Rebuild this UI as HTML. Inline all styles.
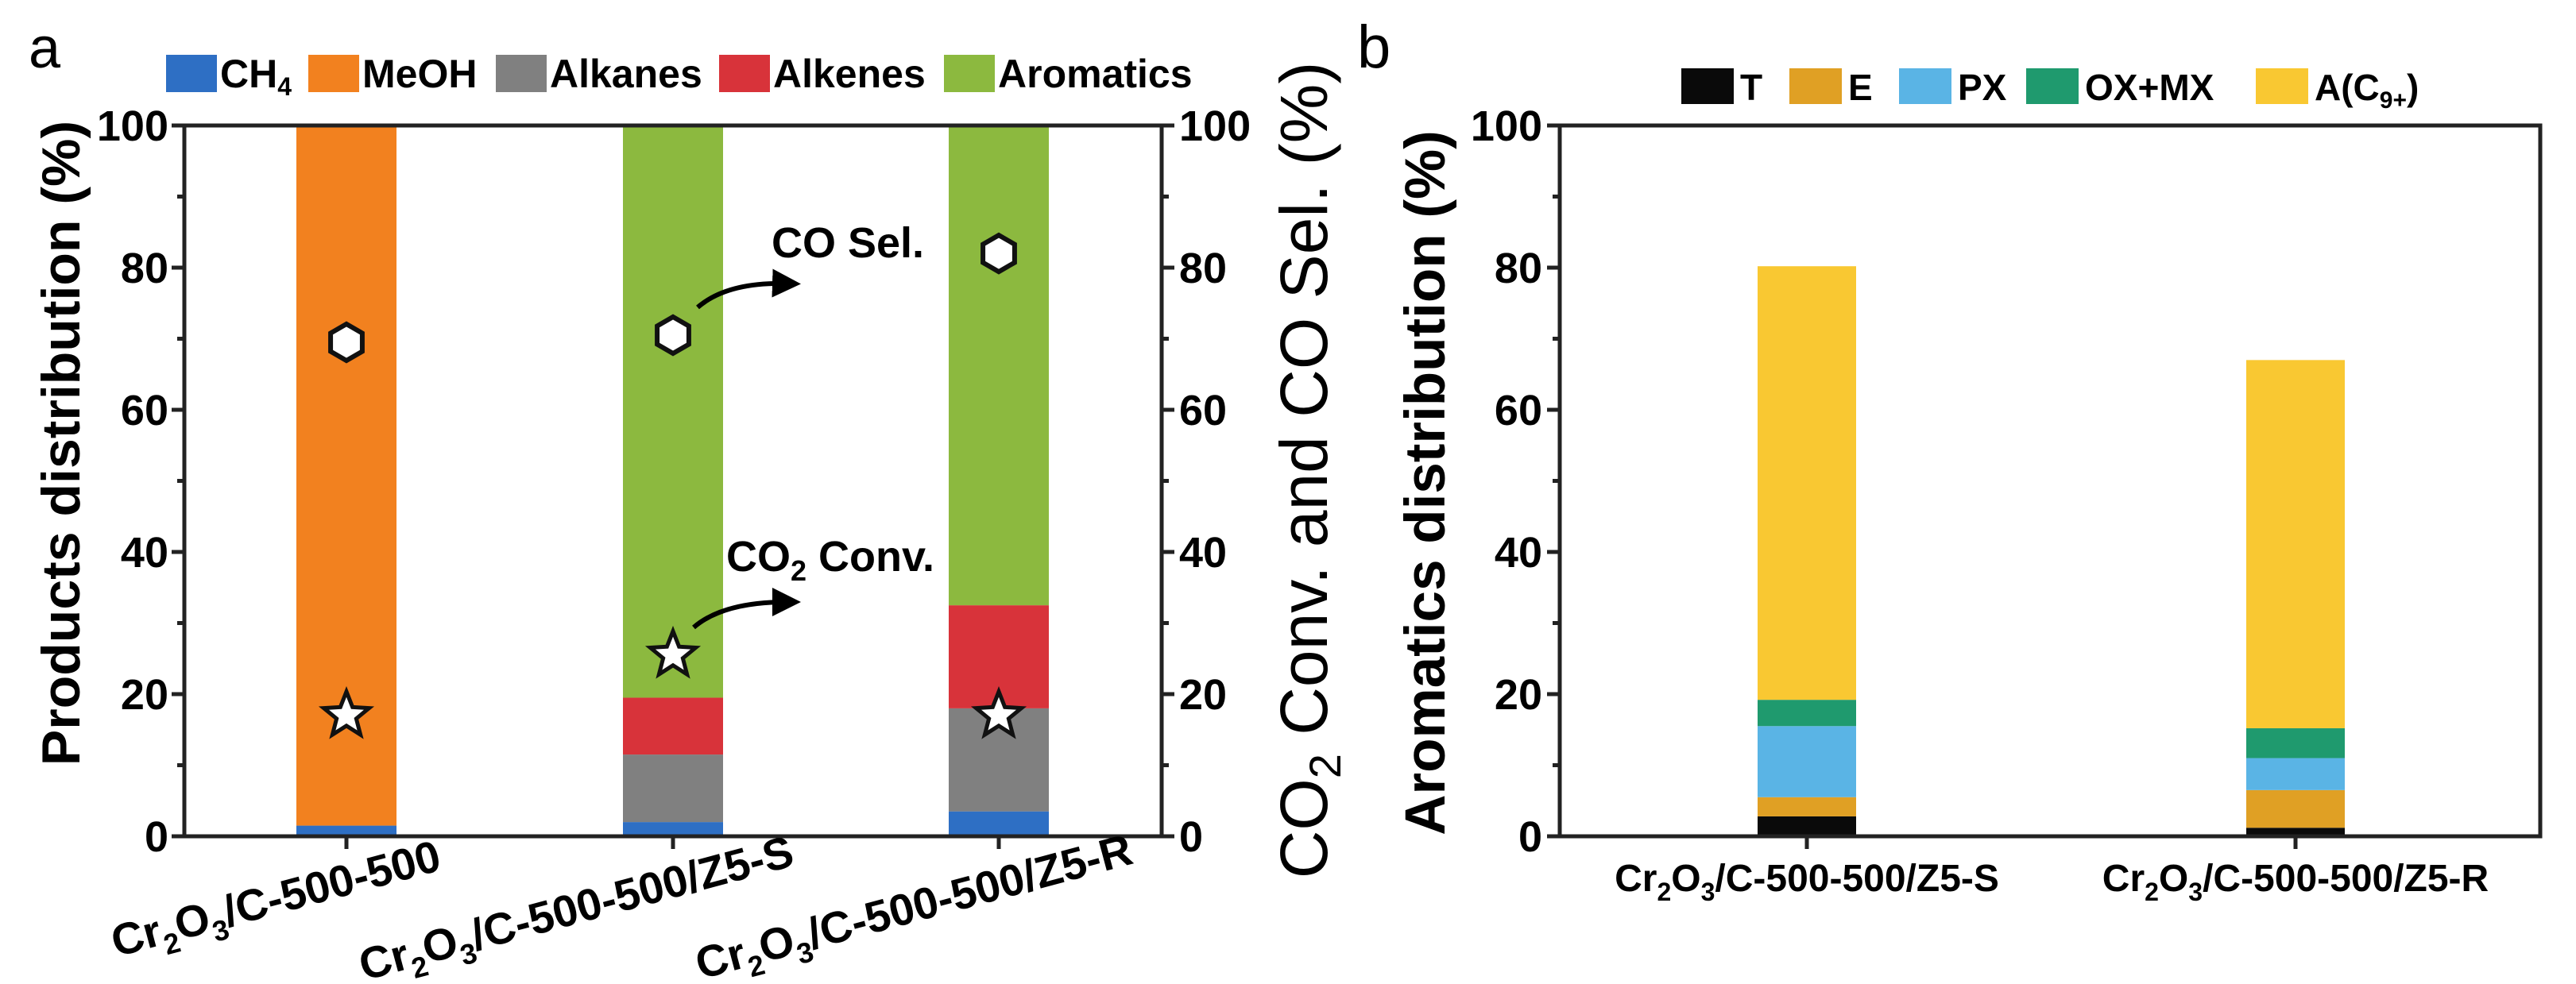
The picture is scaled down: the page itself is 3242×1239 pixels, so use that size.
<!DOCTYPE html>
<html><head><meta charset="utf-8"><style>
html,body{margin:0;padding:0;background:#fff;}
svg{display:block;font-family:"Liberation Sans",Arial,sans-serif;}
</style></head><body>
<svg id="fig" width="3242" height="1239" viewBox="0 0 3242 1239" xmlns="http://www.w3.org/2000/svg">
<defs><marker id="ah" markerWidth="6" markerHeight="6" refX="3" refY="3" orient="auto" markerUnits="strokeWidth"><path d="M0,0 L6,3 L0,6 Z" fill="#000"/></marker></defs>
<g id="pa"></g>
<g id="pb"></g>
</svg>
<script>
// Panel a data
const catsA = ["Cr2O3/C-500-500","Cr2O3/C-500-500/Z5-S","Cr2O3/C-500-500/Z5-R"];
const seriesA = ["CH4","MeOH","Alkanes","Alkenes","Aromatics"];
const colorsA = ["#2e6fc4","#f2811f","#808080","#d8333a","#8cb93f"];
const ch4 = [1.5, 2, 3.5];
const meoh = [98.5, 0, 0];
const alkanes = [0, 9.5, 14.5];
const alkenes = [0, 8, 14.5];
const aromatics = [0, 80.5, 67.5];
const coSel = [69.5, 70.5, 82];
const co2Conv = [17, 25.5, 17];
const ticksA = [0,20,40,60,80,100];
// Panel b data
const catsB = ["Cr2O3/C-500-500/Z5-S","Cr2O3/C-500-500/Z5-R"];
const seriesB = ["T","E","PX","OX+MX","A(C9+)"];
const colorsB = ["#0a0a0a","#e0a024","#5ab4e5","#1f9a6e","#f9c832"];
const tVal = [2.8, 1.2];
const eVal = [2.7, 5.3];
const pxVal = [10, 4.5];
const oxVal = [3.7, 4.2];
const aVal = [61, 51.8];
const ticksB = [0,20,40,60,80,100];

const NS="http://www.w3.org/2000/svg";
function mk(parent,tag,attrs,text){const e=document.createElementNS(NS,tag);for(const k in attrs)e.setAttribute(k,attrs[k]);if(text!==undefined)e.textContent=text;parent.appendChild(e);return e;}

const Y0=1053, Y1=158;
function yS(v){return Y0-(v/100)*(Y0-Y1);}

// ---------- Panel a ----------
const pa=document.getElementById('pa');
const AL=232, AR=1462;
const xA=[436,847,1257], bwA=126;
function xAf(i){return xA[i];}
const stacksA=[ch4,meoh,alkanes,alkenes,aromatics];
for(let i=0;i<catsA.length;i++){
  let base=0;
  for(let s=0;s<stacksA.length;s++){
    const v=stacksA[s][i]; if(v<=0) continue;
    const r=mk(pa,'rect',{x:xAf(i)-bwA/2,y:yS(base+v),width:bwA,height:yS(base)-yS(base+v),fill:colorsA[s]});
    
    
    base+=v;
  }
}
let fr=mk(pa,'rect',{x:AL,y:Y1,width:AR-AL,height:Y0-Y1,fill:'none',stroke:'#222','stroke-width':5});


for(let v=0;v<=100;v+=10){
  const major=v%20===0, len=major?16:9;
  mk(pa,'line',{x1:AL-len,x2:AL,y1:yS(v),y2:yS(v),stroke:'#222','stroke-width':5});
  mk(pa,'line',{x1:AR,x2:AR+len,y1:yS(v),y2:yS(v),stroke:'#222','stroke-width':5});
}
ticksA.forEach(v=>{
  const t=mk(pa,'text',{x:AL-20,y:yS(v)+19,'font-size':54,'font-weight':'bold','text-anchor':'end'},String(v));
  
  
  const t2=mk(pa,'text',{x:AR+22,y:yS(v)+19,'font-size':54,'font-weight':'bold','text-anchor':'start'},String(v));
  
  
});
xA.forEach(x=>mk(pa,'line',{x1:x,x2:x,y1:Y0,y2:Y0+16,stroke:'#222','stroke-width':5}));
const labPosA=[[352,1150],[730,1162],[1155,1160]];
catsA.forEach((c,i)=>{
  const t=mk(pa,'text',{x:labPosA[i][0],y:labPosA[i][1],'font-size':56,'font-weight':'bold','text-anchor':'middle',transform:`rotate(-15 ${labPosA[i][0]} ${labPosA[i][1]})`});
  t.innerHTML=c.replace('Cr2O3','Cr<tspan font-size="36" dy="14">2</tspan><tspan dy="-14">O</tspan><tspan font-size="36" dy="14">3</tspan><tspan dy="-14">')+'</tspan>';
  
  
});
function hexPath(cx,cy,r){let p='';for(let k=0;k<6;k++){const a=Math.PI/6+k*Math.PI/3;p+=(k?'L':'M')+(cx+r*Math.cos(a))+','+(cy+r*Math.sin(a));}return p+'Z';}
function starPath(cx,cy,R,r){let p='';for(let k=0;k<10;k++){const a=-Math.PI/2+k*Math.PI/5;const rr=k%2?r:R;p+=(k?'L':'M')+(cx+rr*Math.cos(a))+','+(cy+rr*Math.sin(a));}return p+'Z';}
coSel.forEach((v,i)=>{
  const h=mk(pa,'path',{d:hexPath(xAf(i),yS(v),23),fill:'#fff',stroke:'#111','stroke-width':6});
  
  
});
co2Conv.forEach((v,i)=>{
  const s=mk(pa,'path',{d:starPath(xAf(i),yS(v),30,13),fill:'#fff',stroke:'#111','stroke-width':5});
  
  
});
let an=mk(pa,'text',{x:971,y:324,'font-size':54,'font-weight':'bold'},'CO Sel.');


an=mk(pa,'text',{x:914,y:719,'font-size':54,'font-weight':'bold'});
an.innerHTML='CO<tspan font-size="36" dy="12">2</tspan><tspan dy="-12"> Conv.</tspan>';


let ar=mk(pa,'path',{d:'M878,387 Q915,355 990,357',fill:'none',stroke:'#000','stroke-width':6,'marker-end':'url(#ah)'});


ar=mk(pa,'path',{d:'M873,790 Q910,758 990,758',fill:'none',stroke:'#000','stroke-width':6,'marker-end':'url(#ah)'});


const legA=[[209,'CH4'],[388,'MeOH'],[624,'Alkanes'],[905,'Alkenes'],[1188,'Aromatics']];
legA.forEach((l,i)=>{
  const r=mk(pa,'rect',{x:l[0],y:69,width:64,height:47,fill:colorsA[i]});
  
  
  const t=mk(pa,'text',{x:l[0]+68,y:110,'font-size':50,'font-weight':'bold'});
  if(l[1]==='CH4') t.innerHTML='CH<tspan font-size="32" dy="10">4</tspan>'; else t.textContent=l[1];
  
  
});
let tt=mk(pa,'text',{transform:'translate(100,558) rotate(-90)','font-size':68,'font-weight':'bold','text-anchor':'middle'},'Products distribution (%)');


tt=mk(pa,'text',{transform:'translate(1670,592) rotate(-90)','font-size':84,'text-anchor':'middle'});
tt.innerHTML='CO<tspan font-size="56" dy="17">2</tspan><tspan dy="-17"> Conv. and CO Sel. (%)</tspan>';


tt=mk(pa,'text',{x:36,y:85,'font-size':72},'a');



// ---------- Panel b ----------
const pb=document.getElementById('pb');
const BL=1963, BR=3197;
const xB=[2274,2889], bwB=124;
const stacksB=[tVal,eVal,pxVal,oxVal,aVal];
for(let i=0;i<catsB.length;i++){
  let base=0;
  for(let s=0;s<stacksB.length;s++){
    const v=stacksB[s][i];
    const r=mk(pb,'rect',{x:xB[i]-bwB/2,y:yS(base+v),width:bwB,height:yS(base)-yS(base+v),fill:colorsB[s]});
    
    
    base+=v;
  }
}
fr=mk(pb,'rect',{x:BL,y:Y1,width:BR-BL,height:Y0-Y1,fill:'none',stroke:'#222','stroke-width':5});


for(let v=0;v<=100;v+=10){
  const len=v%20===0?16:9;
  mk(pb,'line',{x1:BL-len,x2:BL,y1:yS(v),y2:yS(v),stroke:'#222','stroke-width':5});
}
ticksB.forEach(v=>{
  const t=mk(pb,'text',{x:BL-22,y:yS(v)+19,'font-size':54,'font-weight':'bold','text-anchor':'end'},String(v));
  
  
});
xB.forEach(x=>mk(pb,'line',{x1:x,x2:x,y1:Y0,y2:Y0+16,stroke:'#222','stroke-width':5}));
catsB.forEach((c,i)=>{
  const t=mk(pb,'text',{x:xB[i],y:1122,'font-size':48,'font-weight':'bold','text-anchor':'middle'});
  t.innerHTML=c.replace('Cr2O3','Cr<tspan font-size="32" dy="12">2</tspan><tspan dy="-12">O</tspan><tspan font-size="32" dy="12">3</tspan><tspan dy="-12">')+'</tspan>';
  
  
});
const legB=[[2116,'T'],[2252,'E'],[2390,'PX'],[2550,'OX+MX'],[2839,'A(C9+)']];
legB.forEach((l,i)=>{
  const r=mk(pb,'rect',{x:l[0],y:86,width:66,height:45,fill:colorsB[i]});
  
  
  const t=mk(pb,'text',{x:l[0]+74,y:126,'font-size':46,'font-weight':'bold'});
  if(l[1]==='A(C9+)') t.innerHTML='A(C<tspan font-size="30" dy="10">9+</tspan><tspan dy="-10">)</tspan>'; else t.textContent=l[1];
  
  
});
tt=mk(pb,'text',{transform:'translate(1818,608) rotate(-90)','font-size':71,'font-weight':'bold','text-anchor':'middle'},'Aromatics distribution (%)');


tt=mk(pb,'text',{x:1708,y:85,'font-size':76},'b');


</script>
</body></html>
